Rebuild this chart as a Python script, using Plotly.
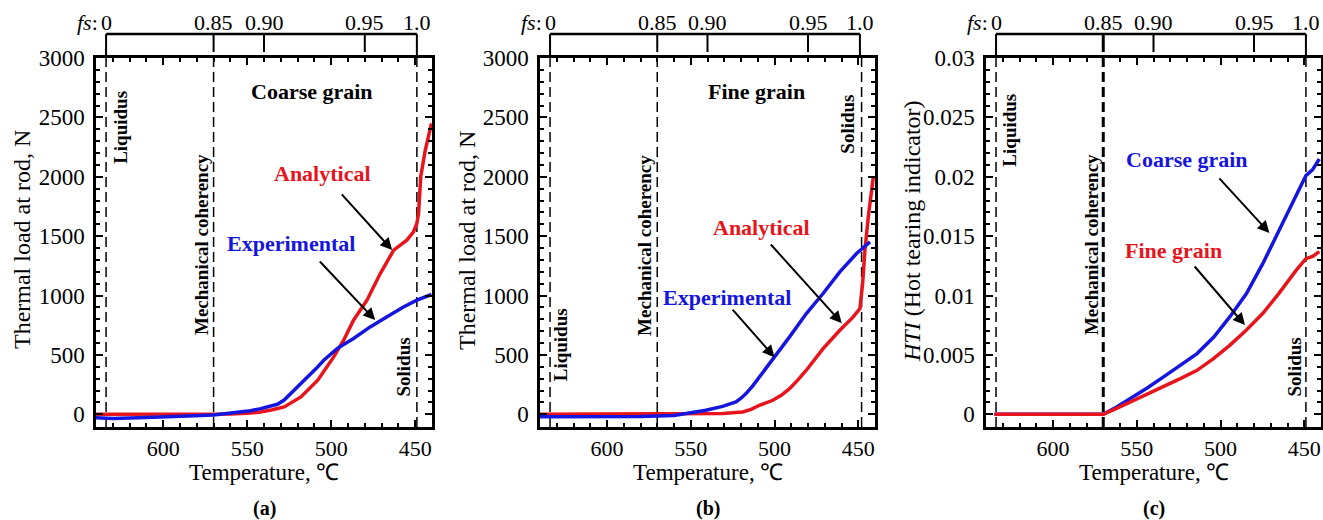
import plotly.graph_objects as go

W, H = 1323, 520
FONT = "Liberation Serif"
RED = "#e8141c"
BLUE = "#1515e0"

# ---------------- data ----------------
# panel (a) coarse grain thermal load
a_red_T = [640, 634, 600, 570, 560, 550, 542, 535, 528, 518, 508, 498.5, 492.6, 486.7, 478.7, 470.8, 462.8, 458.9, 455, 451, 449, 448, 446.7, 444, 440.3]
a_red_V = [0, 0, 0, 0, 2, 8, 19, 38, 62, 146, 287, 483, 624, 792, 961, 1185, 1382, 1424, 1466, 1537, 1607, 1691, 2000, 2225, 2450]
a_blue_T = [640, 630, 615, 600, 585, 570, 558, 548, 542, 532, 528, 524, 519, 514, 509, 504.4, 496.5, 486.7, 476.8, 467, 457, 449, 440.3]
a_blue_V = [-30, -35, -30, -25, -15, -5, 11, 30, 48, 84, 120, 174, 240, 315, 385, 455, 553, 638, 736, 820, 904, 961, 1009]

# panel (b) fine grain thermal load
b_blue_T = [640, 620, 600, 580, 560, 553, 541, 531, 523, 520, 517, 513, 509, 501, 491, 481, 471, 461, 451, 443]
b_blue_V = [-20, -20, -20, -18, -10, 6, 34, 67, 104, 135, 174, 240, 315, 455, 652, 848, 1017, 1199, 1354, 1452]
b_red_T = [640, 600, 560, 540, 531, 519, 514, 509, 501, 496, 491, 486, 481, 471, 461, 453, 449, 447.4, 446, 444, 441]
b_red_V = [0, 0, 0, 2, 6, 20, 42, 76, 118, 160, 216, 290, 371, 553, 708, 820, 891, 1101, 1382, 1663, 2000]

# panel (c) hot tearing indicator
c_T = [635, 600, 570, 562, 553.6, 544, 534, 524, 514, 504, 494.5, 484.5, 474.7, 465, 455, 449, 445, 441]
c_coarse = [0, 0, 0, 0.00062, 0.00132, 0.0022, 0.00315, 0.0041, 0.00511, 0.0065, 0.0082, 0.01017, 0.0127, 0.0155, 0.0183, 0.0201, 0.0206, 0.0215]
c_fine = [0, 0, 0, 0.0005, 0.00104, 0.0017, 0.0023, 0.0030, 0.0037, 0.0047, 0.0058, 0.0071, 0.0085, 0.0102, 0.0121, 0.0131, 0.0133, 0.0137]

# characteristic temperatures
liquidus_T = 634
coherency_T = 570
solidus_T = [449, 448, 449]

# fraction solid top scale
fs_labels = ["0", "0.85", "0.90", "0.95", "1.0"]
fs_T = [634, 570, 540, 480, 449]

x_ticks = [600, 550, 500, 450]
load_ticks = [0, 500, 1000, 1500, 2000, 2500, 3000]
hti_ticks = [0, 0.005, 0.01, 0.015, 0.02, 0.025, 0.03]
hti_ticktext = ["0", "0.005", "0.01", "0.015", "0.02", "0.025", "0.03"]

# ---------------- layout helpers ----------------
def px(x):
    return x / W

def py(y):
    return 1 - y / H

panels_px = [(96, 432), (540, 875), (986, 1321)]
TOP, BOT = 58, 427

fig = go.Figure()

def add(xs, ys, color, i):
    fig.add_trace(go.Scatter(x=xs, y=ys, mode="lines",
                             line=dict(color=color, width=3.5),
                             xaxis="x" if i == 0 else f"x{i+1}", yaxis="y" if i == 0 else f"y{i+1}",
                             showlegend=False, hoverinfo="skip"))

add(a_red_T, a_red_V, RED, 0)
add(a_blue_T, a_blue_V, BLUE, 0)
add(b_red_T, b_red_V, RED, 1)
add(b_blue_T, b_blue_V, BLUE, 1)
add(c_T, c_coarse, BLUE, 2)
add(c_T, c_fine, RED, 2)

tickfont = dict(family=FONT, size=22, color="black")
minor_common = dict(ticks="inside", ticklen=4, tickwidth=1.5, tickcolor="black", showgrid=False)
for i, (l, r) in enumerate(panels_px):
    sfx = "" if i == 0 else str(i + 1)
    xa = dict(domain=[px(l), px(r)], range=[640, 440], anchor="y" + sfx, automargin=False,
              showline=True, linecolor="black", linewidth=2.5, mirror="ticks",
              ticks="inside", ticklen=7, tickwidth=2, tickcolor="black",
              tickvals=x_ticks, showgrid=False, zeroline=False, tickfont=tickfont,
              minor=dict(dtick=10, **minor_common), ticklabelstandoff=0)
    if i < 2:
        ya = dict(range=[-107, 3000], tickvals=load_ticks, minor=dict(dtick=100, **minor_common))
    else:
        ya = dict(range=[-0.00107, 0.03], tickvals=hti_ticks, ticktext=hti_ticktext,
                  minor=dict(dtick=0.001, **minor_common))
    ya.update(domain=[py(BOT), py(TOP)], anchor="x" + sfx, automargin=False,
              showline=True, linecolor="black", linewidth=2.5,
              mirror="ticks", ticks="inside", ticklen=7, tickwidth=2, tickcolor="black",
              showgrid=False, zeroline=False, tickfont=dict(family=FONT, size=23, color="black"),
              ticklabelstandoff=4)
    fig.update_layout(**{"xaxis" + sfx: xa, "yaxis" + sfx: ya})

shapes = []
annotations = []

def T(text, x, y, xref, yref, size=22, color="black", bold=False, angle=0, xanchor="center", **kw):
    if bold:
        text = "<b>" + text + "</b>"
    annotations.append(dict(text=text, x=x, y=y, xref=xref, yref=yref, showarrow=False,
                            font=dict(family=FONT, size=size, color=color), textangle=angle,
                            xanchor=xanchor, yanchor="middle", **kw))

for i, (l, r) in enumerate(panels_px):
    sfx = "" if i == 0 else str(i + 1)
    xr = "x" + sfx
    yr = "y" + sfx
    # dashed reference lines
    for tx, w in [(liquidus_T, 1.5), (coherency_T, 3 if i == 2 else 1.5), (solidus_T[i], 1.5)]:
        shapes.append(dict(type="line", xref=xr, yref=yr + " domain", x0=tx, x1=tx, y0=0, y1=1,
                           line=dict(color="black", width=w, dash="10px,5px"), layer="below"))
    # fs scale
    shapes.append(dict(type="line", xref=xr, yref="paper", x0=fs_T[0], x1=fs_T[-1], y0=py(34), y1=py(34),
                       line=dict(color="black", width=2.5)))
    for j, ft in enumerate(fs_T):
        yb = TOP if j in (0, len(fs_T) - 1) else 52
        shapes.append(dict(type="line", xref=xr, yref="paper", x0=ft, x1=ft, y0=py(34), y1=py(yb),
                           line=dict(color="black", width=3 if (i == 2 and j == 1) else 2)))
        T(fs_labels[j], ft, py(23), xr, "paper", size=22)
    T("<i>fs</i>:", fs_T[0], py(23), xr, "paper", size=22, xanchor="right", xshift=-6)
    # axis titles
    T("Temperature, ℃", px((l + r) / 2), py(472), "paper", "paper", size=23)
    T("(" + "abc"[i] + ")", px((l + r) / 2), py(508), "paper", "paper", size=20, bold=True)

T("Thermal load at rod, N", px(22), py(240), "paper", "paper", size=24, angle=-90)
T("Thermal load at rod, N", px(467), py(240), "paper", "paper", size=24, angle=-90)
T("<i>HTI</i> (Hot tearing indicator)", px(912), py(231), "paper", "paper", size=24, angle=-90)

# panel (a) labels
T("Coarse grain", 511.2, 2716, "x", "y", bold=True)
T("Analytical", 505.2, 2024, "x", "y", color=RED, bold=True)
T("Experimental", 524.2, 1442, "x", "y", color=BLUE, bold=True)
T("Liquidus", 625.1, 2412, "x", "y", size=19, bold=True, angle=-90)
T("Mechanical coherency", 577.5, 1425, "x", "y", size=19, bold=True, angle=-90)
T("Solidus", 457.1, 396, "x", "y", size=19, bold=True, angle=-90)
# panel (b) labels
T("Fine grain", 510.8, 2716, "x2", "y2", bold=True)
T("Analytical", 507.8, 1577, "x2", "y2", color=RED, bold=True)
T("Experimental", 528.2, 987, "x2", "y2", color=BLUE, bold=True)
T("Liquidus", 628, 582, "x2", "y2", size=19, bold=True, angle=-90)
T("Mechanical coherency", 578, 1425, "x2", "y2", size=19, bold=True, angle=-90)
T("Solidus", 456.2, 2446, "x2", "y2", size=19, bold=True, angle=-90)
# panel (c) labels
T("Coarse grain", 519.9, 0.02142, "x3", "y3", color=BLUE, bold=True)
T("Fine grain", 528.2, 0.01383, "x3", "y3", color=RED, bold=True)
T("Liquidus", 625.8, 0.02395, "x3", "y3", size=19, bold=True, angle=-90)
T("Mechanical coherency", 577.3, 0.01425, "x3", "y3", size=19, bold=True, angle=-90)
T("Solidus", 456, 0.00396, "x3", "y3", size=19, bold=True, angle=-90)

def arrow(x0, y0, x1, y1, xr, yr):
    annotations.append(dict(x=x1, y=y1, ax=x0, ay=y0, xref=xr, yref=yr, axref=xr, ayref=yr,
                            showarrow=True, arrowhead=2, arrowsize=1.2, arrowwidth=2, arrowcolor="black", text=""))

arrow(494.5, 1864, 463.7, 1383, "x", "y")
arrow(507.6, 1299, 473.8, 793, "x", "y")
arrow(503.0, 1442, 459.8, 767, "x2", "y2")
arrow(525.8, 894, 500.0, 481, "x2", "y2")
arrow(501.5, 0.01999, 470.8, 0.01527, "x3", "y3")
arrow(516.2, 0.01257, 485.4, 0.00751, "x3", "y3")

fig.update_layout(width=W, height=H, margin=dict(l=0, r=0, t=0, b=0, autoexpand=False),
                  paper_bgcolor="white", plot_bgcolor="white",
                  shapes=shapes, annotations=annotations,
                  font=dict(family=FONT, color="black"))
fig.write_html("out.html")
